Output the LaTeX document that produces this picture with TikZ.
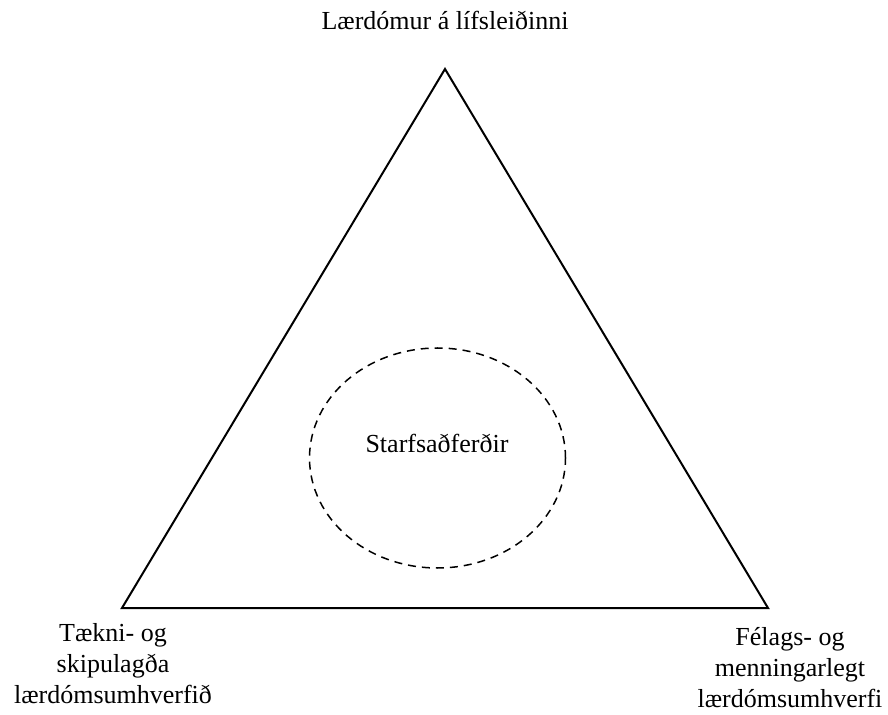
\documentclass[tikz,border=0pt]{standalone}
\usepackage{fontspec}
\setmainfont{Liberation Serif}
\usetikzlibrary{shapes.geometric, positioning}

\begin{document}
\begin{tikzpicture}[x=0.5pt, y=-0.5pt,
          label/.style={align=center, inner sep=0pt, font=\fontsize{13}{15.5}\selectfont},
          edge/.style={draw=black, line width=1pt, line join=miter},
          ring/.style={ellipse, draw=black, dash pattern=on 4pt off 3pt, line width=0.75pt, minimum width=128pt, minimum height=110pt, inner sep=0pt}]

        \useasboundingbox (0,0) rectangle (888,715);

        \coordinate (apex) at (445,69);
        \coordinate (bl) at (122,608);
        \coordinate (br) at (768,608);

        \draw [edge] (apex) -- (bl) -- (br) -- cycle;

        \node [ring] (method) at (437.5,458) {};
        \node [label] (methodtxt) at (437,443) {Starfsaðferðir};

        \node [label] (life) at (445,20) {Lærdómur á lífsleiðinni};
        \node [label] (tech) at (113,664) {Tækni- og\\skipulagða\\lærdómsumhverfið};
        \node [label] (social) at (790,668) {Félags- og\\menningarlegt\\lærdómsumhverfi};
      \end{tikzpicture}
\end{document}
